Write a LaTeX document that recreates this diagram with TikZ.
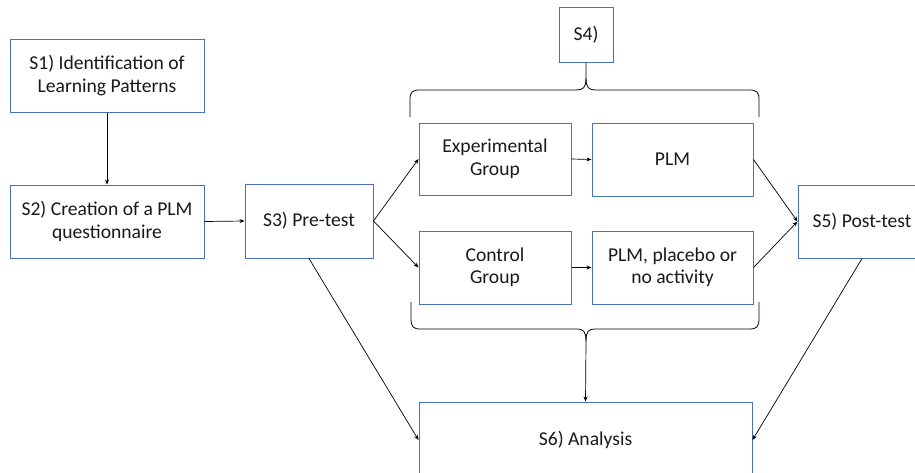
\documentclass[tikz,border=0pt]{standalone}
\usepackage{fontspec}
\setmainfont{Carlito}
\usetikzlibrary{arrows.meta}
\definecolor{boxblue}{RGB}{72,114,184}
\definecolor{ink}{RGB}{25,25,25}
\begin{document}
\begin{tikzpicture}[x=1pt,y=-1pt,
  box/.style={draw=boxblue, line width=1pt, fill=white, align=center,
    text=ink, inner sep=0pt, font=\fontsize{19.6}{22.5}\selectfont},
  link/.style={draw=black, line width=0.7pt, -{Stealth[length=5pt,width=4pt]}},
  bracestroke/.style={draw=black, line width=0.8pt}]
\useasboundingbox (0,0) rectangle (915,472);

% step boxes
\node[box, minimum width=194, minimum height=73] (s1) at (107,75.5) {S1) Identification of\\Learning Patterns};
\node[box, minimum width=194, minimum height=73] (s2) at (107,221.5) {S2) Creation of a PLM\\questionnaire};
\node[box, minimum width=128, minimum height=74] (s3) at (309,221) {S3) Pre-test};
\node[box, minimum width=54, minimum height=55] (s4) at (586,34.5) {S4)};
\node[box, minimum width=152, minimum height=72] (exp) at (495,159) {Experimental\\Group};
\node[box, minimum width=161, minimum height=73] (plm) at (672.5,159.5) {PLM};
\node[box, minimum width=152, minimum height=73] (ctrl) at (495,267.5) {Control\\Group};
\node[box, minimum width=161, minimum height=73] (plmp) at (672.5,267.5) {PLM, placebo or\\no activity};
\node[box, minimum width=128, minimum height=73] (s5) at (862,221.5) {S5) Post-test};
\node[box, minimum width=333, minimum height=76] (s6) at (585.5,440) {S6) Analysis};

% upper brace, tip joining S4
\coordinate (topTip) at (s4.south);
\path[bracestroke] (410,117) -- (410,100) .. controls (410,92) and (412,90) .. (420,90)
  -- (576,90) .. controls (583,90) and (586,88) .. (586,78) -- (topTip);
\path[bracestroke] (586,78) .. controls (586,88) and (589,90) .. (596,90)
  -- (749,90) .. controls (757,90) and (759,92) .. (759,100) -- (759,117);

% lower brace, tip feeding S6
\coordinate (lowTip) at (586,341);
\path[bracestroke] (411,302) -- (411,318) .. controls (411,327) and (413,329) .. (421,329)
  -- (577,329) .. controls (583,329) and (586,331) .. (lowTip);
\path[bracestroke] (lowTip) .. controls (586,331) and (589,329) .. (595,329)
  -- (749,329) .. controls (757,329) and (759,327) .. (759,318) -- (759,302);

% connectors
\draw[link] (s1.south) -- (s2.north);
\draw[link] (s2.east) -- (s3.west);
\draw[link] (s3.east) -- (exp.west);
\draw[link] (s3.east) -- (ctrl.west);
\draw[link] (exp.east) -- (plm.west);
\draw[link] (ctrl.east) -- (plmp.west);
\draw[link] (plm.east) -- (s5.west);
\draw[link] (plmp.east) -- (s5.west);
\draw[link] (lowTip) -- (s6.north);
\draw[link] (s3.south) -- (s6.west);
\draw[link] (s5.south) -- (s6.east);
\end{tikzpicture}
\end{document}
